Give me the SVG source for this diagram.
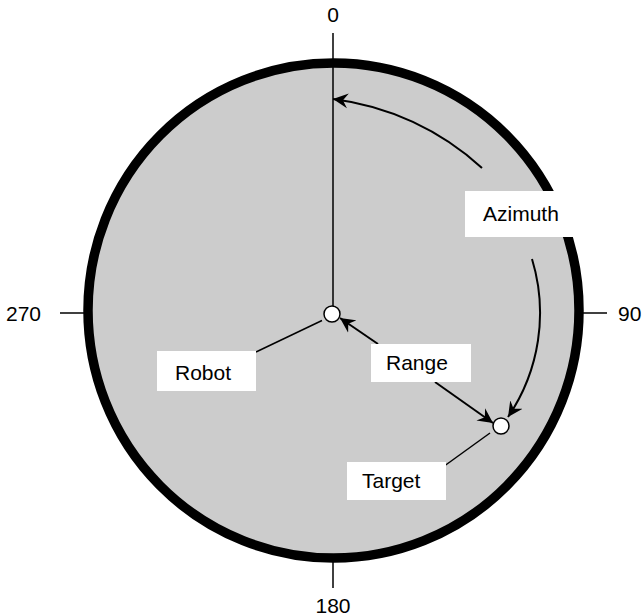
<svg xmlns="http://www.w3.org/2000/svg" width="643" height="616" viewBox="0 0 643 616">
  <style>
    .lbl { font-family: "Liberation Sans", Arial, sans-serif; font-size: 21px; fill: #000; }
    .ln { stroke: #000; stroke-width: 1.5; fill: none; }
    .arr { stroke: #000; stroke-width: 2; fill: none; marker-end: url(#ah); }
    .box { fill: #fff; stroke: none; }
    .dot { fill: #fff; stroke: #000; stroke-width: 1.5; }
  </style>
  <defs>
    <marker id="ah" markerUnits="userSpaceOnUse" markerWidth="16" markerHeight="16" refX="15" refY="8" orient="auto" viewBox="0 0 16 16">
      <path d="M15,8 L0,0.5 L5,8 L0,15.5 Z" fill="#000"/>
    </marker>
  </defs>
  <rect width="643" height="616" fill="#fff"/>
  <g id="dial">
    <ellipse cx="333.5" cy="310.5" rx="245.5" ry="247.5" fill="#cccccc" stroke="#000" stroke-width="9.5"/>
  </g>
  <g id="ticks">
    <line class="ln" x1="60" y1="313" x2="84" y2="313"/>
    <line class="ln" x1="583" y1="313" x2="607" y2="313"/>
    <line class="ln" x1="333" y1="562" x2="333" y2="588"/>
    <text class="lbl" x="333" y="22" text-anchor="middle">0</text>
    <text class="lbl" x="6" y="321">270</text>
    <text class="lbl" x="618" y="321">90</text>
    <text class="lbl" x="333" y="613" text-anchor="middle">180</text>
  </g>
  <g id="connectors">
    <line class="ln" x1="333" y1="33" x2="333" y2="314"/>
    <line class="ln" x1="322" y1="320.5" x2="256" y2="352"/>
    <line class="ln" x1="490" y1="433" x2="436" y2="472"/>
    <path class="arr" d="M482,168 A270,270 0 0 0 333,99"/>
    <path class="arr" d="M532,259 A185,185 0 0 1 508,417"/>
    <line class="arr" x1="378" y1="344" x2="340" y2="318"/>
    <line class="arr" x1="435" y1="382" x2="493" y2="423"/>
  </g>
  <g id="robot">
    <circle class="dot" cx="332" cy="314" r="8"/>
    <rect class="box" x="157" y="351" width="99" height="40"/>
    <text class="lbl" x="175" y="380">Robot</text>
  </g>
  <g id="target">
    <circle class="dot" cx="501" cy="426" r="8"/>
    <rect class="box" x="347" y="462" width="99" height="38"/>
    <text class="lbl" x="362" y="488">Target</text>
  </g>
  <g id="range">
    <rect class="box" x="371" y="344" width="100" height="38"/>
    <text class="lbl" x="386" y="370">Range</text>
  </g>
  <g id="azimuth">
    <rect class="box" x="465" y="191" width="112" height="46"/>
    <text class="lbl" x="483" y="221">Azimuth</text>
  </g>
</svg>
